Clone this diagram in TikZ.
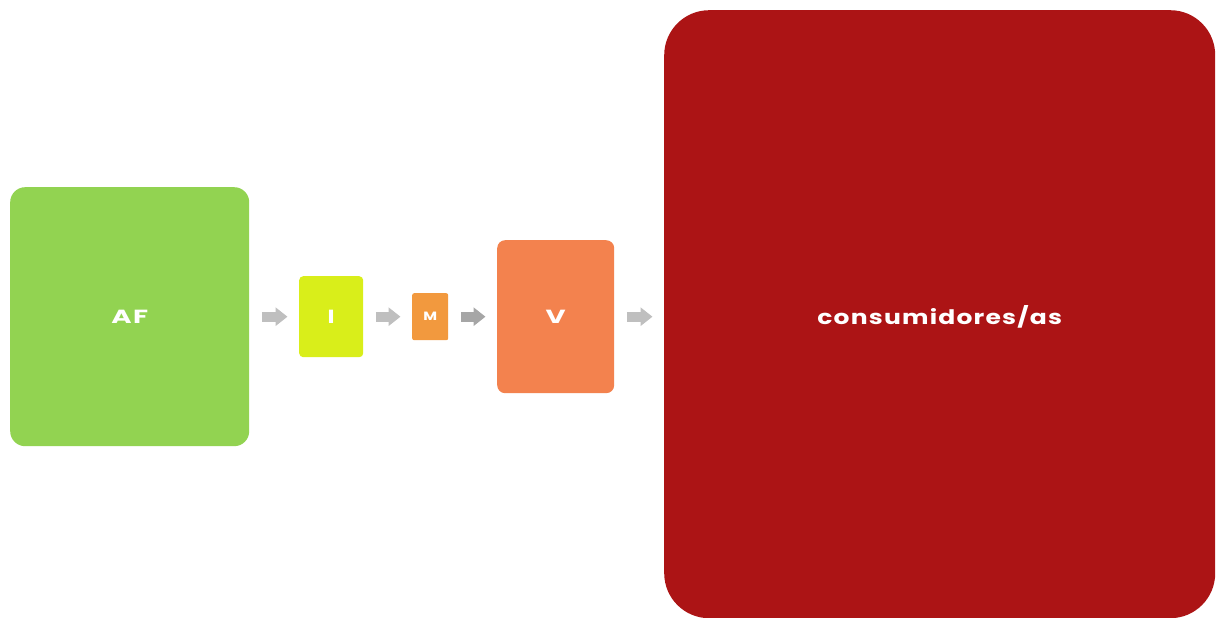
\documentclass[tikz,border=0pt]{standalone}
\usepackage{fontspec}
\setmainfont{Poppins}
\newfontfamily\boxfont{Poppins}[FakeStretch=1.25, LetterSpace=6]
\newfontfamily\widefont{Poppins}[FakeStretch=1.45, LetterSpace=8]
\usetikzlibrary{arrows.meta,calc}
\definecolor{cAF}{RGB}{146,211,81}
\definecolor{cI}{RGB}{217,238,26}
\definecolor{cM}{RGB}{242,153,62}
\definecolor{cV}{RGB}{243,130,78}
\definecolor{cC}{RGB}{172,20,21}
\definecolor{gLight}{RGB}{191,191,191}
\definecolor{gDark}{RGB}{166,166,166}
\tikzset{
  box/.style={rectangle, inner sep=0pt, anchor=north west, text=white, font=\boxfont\bfseries\fontsize{19}{21}\selectfont},
  flow/.style={draw=#1, line width=10pt, -{Triangle[width=18pt,length=12pt]}, shorten <=12.5pt, shorten >=11.5pt},
}
\begin{document}
\begin{tikzpicture}[x=1pt,y=-1pt]
\useasboundingbox (0,0) rectangle (1220,618);
\node[box, fill=cAF, rounded corners=15pt, minimum width=239pt, minimum height=259pt, font=\widefont\bfseries\fontsize{19}{21}\selectfont] (af) at (10,187) {AF};
\node[box, fill=cI, rounded corners=4pt, minimum width=64pt, minimum height=81pt] (i) at (299,276) {I};
\node[box, fill=cM, rounded corners=2pt, minimum width=36pt, minimum height=47pt, font=\boxfont\bfseries\fontsize{12}{14}\selectfont] (m) at (412,293) {M};
\node[box, fill=cV, rounded corners=8pt, minimum width=117pt, minimum height=153pt, font=\widefont\bfseries\fontsize{19}{21}\selectfont] (v) at (497,240) {V};
\node[box, fill=cC, rounded corners=45pt, minimum width=551pt, minimum height=608pt] (c) at (664,10) {};
\node[text=white, inner sep=0pt, font=\boxfont\bfseries\fontsize{20}{22}\selectfont] (ct) at (c.center |- v.center) {consumidores/as};
\draw[flow=gLight] (af.east) -- (i.west);
\draw[flow=gLight] (i.east) -- (m.west);
\draw[flow=gDark] (m.east) -- (v.west);
\draw[flow=gLight] (v.east) -- (c.west |- v.east);
\end{tikzpicture}
\end{document}
